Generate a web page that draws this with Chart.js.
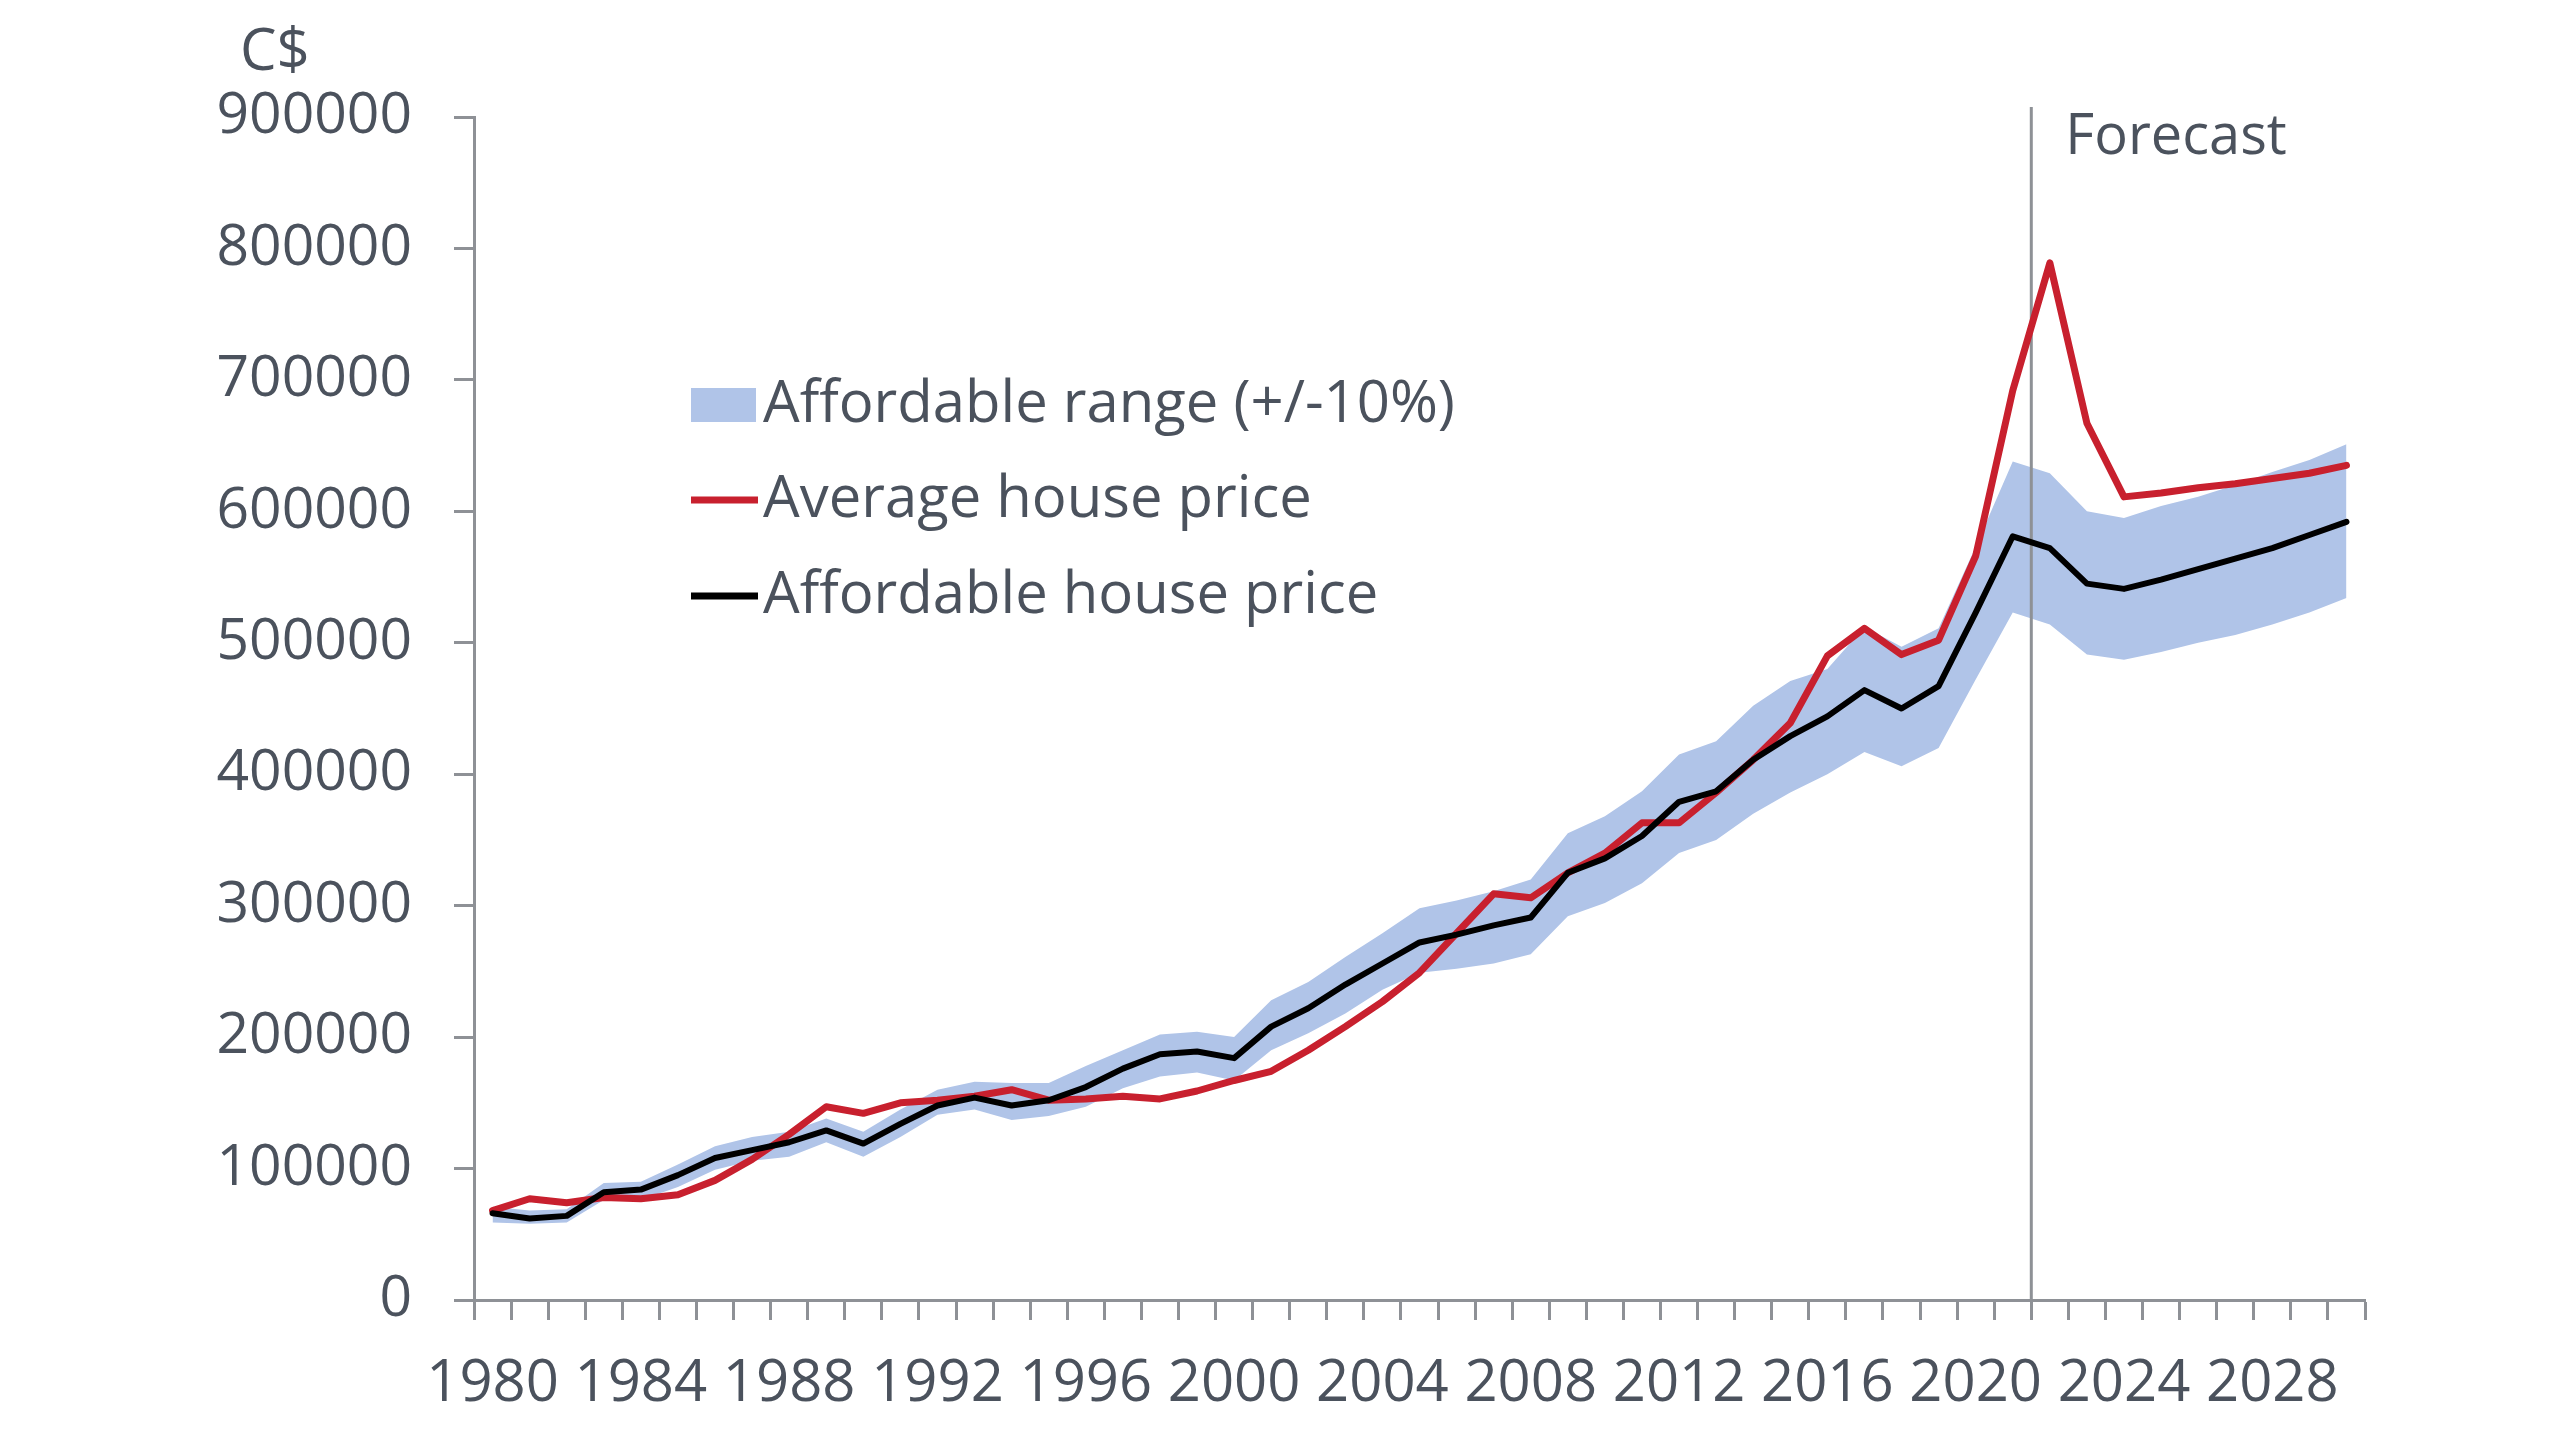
<!DOCTYPE html>
<html>
<head>
<meta charset="utf-8">
<title>Average and affordable house price, Canada</title>
<script src="https://cdn.jsdelivr.net/npm/chart.js@4.4.1/dist/chart.umd.min.js"></script>
<style>
  html, body { margin: 0; padding: 0; background: #ffffff; }
  #wrap { width: 2560px; height: 1440px; }
</style>
</head>
<body>
<div id="wrap"><canvas id="chart" width="2560" height="1440"></canvas></div>
<script>
const years = ['1980', '1981', '1982', '1983', '1984', '1985', '1986', '1987', '1988', '1989',
    '1990', '1991', '1992', '1993', '1994', '1995', '1996', '1997', '1998', '1999',
    '2000', '2001', '2002', '2003', '2004', '2005', '2006', '2007', '2008', '2009',
    '2010', '2011', '2012', '2013', '2014', '2015', '2016', '2017', '2018', '2019',
    '2020', '2021', '2022', '2023', '2024', '2025', '2026', '2027', '2028', '2029', '2030'];

const averagePrice = [68000, 77000, 74000, 78000, 77000, 80000, 91000, 107000, 126000, 147000,
    142000, 150000, 152000, 155000, 160000, 152000, 153000, 155000, 153000, 159000,
    167000, 174000, 190000, 208000, 227000, 249000, 279000, 309000, 306000, 325000,
    340000, 363000, 363000, 386000, 411000, 439000, 490000, 511000, 491000, 502000,
    566000, 692000, 789000, 667000, 611000, 614000, 618000, 621000, 625000, 629000, 635000];

const affordablePrice = [66000, 62000, 64000, 82000, 84000, 95000, 108000, 114000, 120000, 129000,
    119000, 134000, 148000, 154000, 148000, 152000, 162000, 176000, 187000, 189000,
    184000, 208000, 222000, 240000, 256000, 272000, 278000, 285000, 291000, 325000,
    336000, 353000, 379000, 387000, 411000, 429000, 444000, 464000, 450000, 467000,
    523000, 581000, 572000, 545000, 541000, 548000, 556000, 564000, 572000, 582000, 592000];

const rangeLow = [59000, 58000, 59000, 76000, 76000, 86000, 99000, 106000, 109000, 120000,
    109000, 124000, 141000, 145000, 137000, 140000, 147000, 161000, 170000, 173000,
    167000, 190000, 203000, 218000, 236000, 249000, 252000, 256000, 263000, 292000,
    302000, 317000, 340000, 350000, 370000, 386000, 400000, 417000, 406000, 420000,
    472000, 523000, 514000, 491000, 487000, 493000, 500000, 506000, 514000, 523000, 534000];

const rangeHigh = [71000, 68000, 69000, 89000, 90000, 103000, 117000, 124000, 128000, 138000,
    128000, 145000, 160000, 166000, 165000, 165000, 178000, 190000, 202000, 204000,
    200000, 228000, 242000, 261000, 279000, 298000, 304000, 311000, 320000, 355000,
    368000, 387000, 415000, 425000, 452000, 471000, 480000, 512000, 497000, 511000,
    573000, 638000, 629000, 600000, 595000, 604000, 611000, 620000, 630000, 639000, 651000];

const yMin = 0;
const yMax = 900000;
const yStep = 100000;
const labelEvery = 4;
const forecastFrom = '2022';
const unitLabel = 'C$';
const forecastLabel = 'Forecast';

const FONT = "'Open Sans', 'Noto Sans', sans-serif";
const TEXT_COLOR = '#4b525d';
const AXIS_COLOR = '#8e9196';
const BAND_COLOR = 'rgb(176, 196, 232)';
const RED = '#c8202e';
const BLACK = '#000000';

const extras = {
    id: 'extras',
    afterDatasetDraw(chart, args) {
        // forecast divider sits over the band but under the two lines
        if (args.index !== 1) return;
        const ctx = chart.ctx;
        const area = chart.chartArea;
        const x = forecastX(chart);
        ctx.save();
        ctx.strokeStyle = AXIS_COLOR;
        ctx.lineWidth = 3;
        ctx.beginPath();
        ctx.moveTo(x, area.top - 10);
        ctx.lineTo(x, area.bottom);
        ctx.stroke();
        ctx.restore();
    },
    afterDraw(chart) {
        const ctx = chart.ctx;
        const area = chart.chartArea;
        ctx.save();
        ctx.fillStyle = TEXT_COLOR;
        ctx.textAlign = 'left';
        ctx.textBaseline = 'alphabetic';
        ctx.font = `58px ${FONT}`;
        ctx.fillText(unitLabel, area.left - 234, area.top - 47);
        ctx.font = `56px ${FONT}`;
        ctx.fillText(forecastLabel, forecastX(chart) + 34, area.top + 37);
        drawLegend(chart);
        ctx.restore();
    }
};

function forecastX(chart) {
    const xScale = chart.scales.x;
    const i = years.indexOf(forecastFrom);
    return (xScale.getPixelForValue(i - 1) + xScale.getPixelForValue(i)) / 2;
}

function drawLegend(chart) {
    const ctx = chart.ctx;
    const area = chart.chartArea;
    const ds = chart.data.datasets;
    const items = [
        { label: ds[1].label, kind: 'box', color: ds[1].backgroundColor },
        { label: ds[2].label, kind: 'line', color: ds[2].borderColor },
        { label: ds[3].label, kind: 'line', color: ds[3].borderColor }
    ];
    const left = area.left + 217;
    const rowY = [area.top + 288, area.top + 383, area.top + 479];
    ctx.font = `58px ${FONT}`;
    ctx.textBaseline = 'middle';
    items.forEach((item, n) => {
        const y = rowY[n];
        if (item.kind === 'box') {
            ctx.fillStyle = item.color;
            ctx.fillRect(left, y - 17, 65, 34);
        } else {
            ctx.strokeStyle = item.color;
            ctx.lineWidth = 7;
            ctx.beginPath();
            ctx.moveTo(left, y);
            ctx.lineTo(left + 67, y);
            ctx.stroke();
        }
        ctx.fillStyle = TEXT_COLOR;
        ctx.fillText(item.label, left + 72, y);
    });
}

const ctx = document.getElementById('chart').getContext('2d');
new Chart(ctx, {
    type: 'line',
    data: {
        labels: years,
        datasets: [
            {
                label: 'Affordable range low',
                data: rangeLow,
                borderWidth: 0,
                pointRadius: 0,
                fill: false,
                order: 3
            },
            {
                label: 'Affordable range (+/-10%)',
                data: rangeHigh,
                borderWidth: 0,
                pointRadius: 0,
                backgroundColor: BAND_COLOR,
                fill: 0,
                order: 2
            },
            {
                label: 'Average house price',
                data: averagePrice,
                borderColor: RED,
                borderWidth: 7,
                pointRadius: 0,
                tension: 0,
                fill: false,
                order: 1
            },
            {
                label: 'Affordable house price',
                data: affordablePrice,
                borderColor: BLACK,
                borderWidth: 6,
                pointRadius: 0,
                tension: 0,
                fill: false,
                order: 0
            }
        ]
    },
    options: {
        responsive: false,
        animation: false,
        devicePixelRatio: 1,
        layout: { padding: { left: 0, top: 117, right: 195, bottom: 0 } },
        plugins: {
            legend: { display: false },
            tooltip: { enabled: false },
            filler: { propagate: false }
        },
        elements: { line: { borderJoinStyle: 'round', borderCapStyle: 'round' } },
        scales: {
            x: {
                type: 'category',
                offset: true,
                afterFit: (scale) => { scale.height = 140; },
                border: { display: true, color: AXIS_COLOR, width: 3 },
                grid: {
                    display: true,
                    offset: true,
                    drawOnChartArea: false,
                    drawTicks: true,
                    tickLength: 20,
                    tickWidth: 3,
                    tickColor: AXIS_COLOR
                },
                ticks: {
                    autoSkip: false,
                    maxRotation: 0,
                    minRotation: 0,
                    padding: 30,
                    color: TEXT_COLOR,
                    font: { family: FONT, size: 58 },
                    callback: (value, index) => (index % labelEvery === 0 ? years[index] : '')
                }
            },
            y: {
                min: yMin,
                max: yMax,
                afterFit: (scale) => { scale.width = 474; },
                border: { display: true, color: AXIS_COLOR, width: 3 },
                grid: {
                    display: true,
                    drawOnChartArea: false,
                    drawTicks: true,
                    tickLength: 20,
                    tickWidth: 3,
                    tickColor: AXIS_COLOR
                },
                ticks: {
                    stepSize: yStep,
                    padding: 42,
                    color: TEXT_COLOR,
                    font: { family: FONT, size: 57 },
                    callback: (value) => String(value)
                }
            }
        }
    },
    plugins: [extras]
});
</script>
</body>
</html>
